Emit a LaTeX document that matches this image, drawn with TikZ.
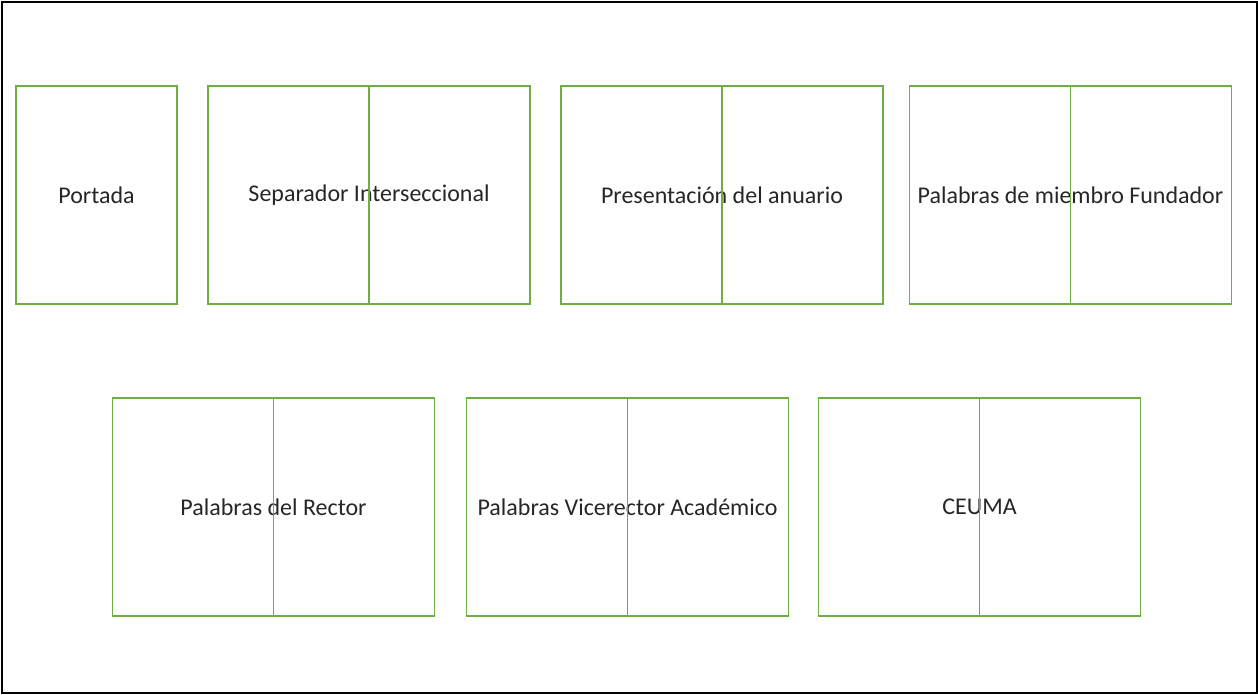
\documentclass[tikz,border=0pt]{standalone}
\usepackage{fontspec}
\setmainfont{Carlito}
\usetikzlibrary{positioning}
\definecolor{pagegreen}{RGB}{112,173,71}
\tikzset{
    page/.style = {rectangle, draw=pagegreen, line width=1.5pt, minimum width=161pt, minimum height=218pt, inner sep=0pt, text=black!85, font=\fontsize{24}{28}\selectfont},
    spread/.style = {page, minimum width=322pt},
    fold/.style = {draw=pagegreen, line width=1.5pt},
    frame/.style = {draw=black, line width=2pt}
}
\begin{document}
\begin{tikzpicture}[x=1pt,y=-1pt]
\useasboundingbox (0,0) rectangle (1258,694);
\draw[frame] (1.5,1.5) rectangle (1256.5,692.5);
%
\node[page] at (96.5,195) (portada) {Portada};
\node[spread] at (369,195) (separador) {Separador Interseccional};
\node[spread] at (722,195) (presentacion) {Presentación del anuario};
\node[spread] at (1070.5,195) (fundador) {Palabras de miembro Fundador};
\node[spread] at (273.5,507) (rector) {Palabras del Rector};
\node[spread] at (627.5,507) (vicerector) {Palabras Vicerector Académico};
\node[spread] at (979.5,507) (ceuma) {CEUMA};
%
\foreach \n in {separador,presentacion,fundador,rector,vicerector,ceuma}
    \draw[fold] (\n.north) -- (\n.south);
\end{tikzpicture}
\end{document}
